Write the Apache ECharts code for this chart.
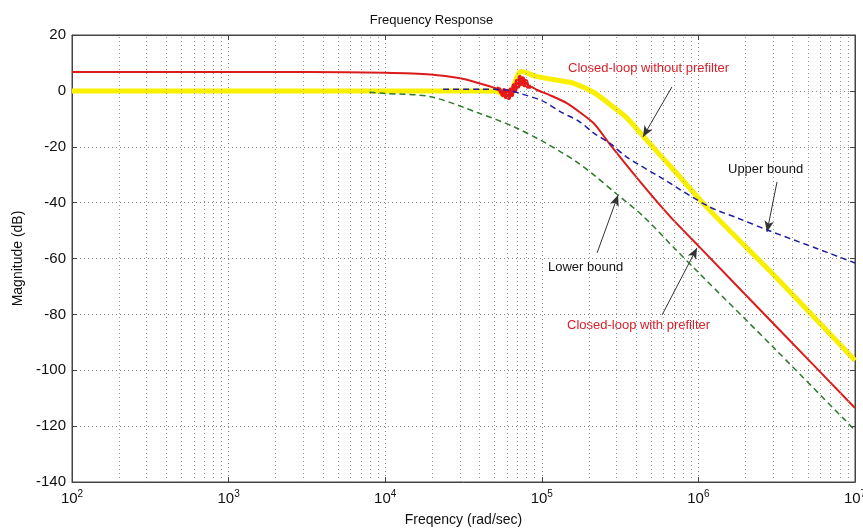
<!DOCTYPE html>
<html lang="en">
<head>
    <meta charset="UTF-8">
    <title>Frequency Response</title>
    <script src="https://cdn.jsdelivr.net/npm/echarts@6/dist/echarts.min.js"></script>
    <style>
        html, body { margin: 0; padding: 0; background: #fff; }
        #main { width: 863px; height: 528px; }
    </style>
</head>
<body>
    <div id="main"></div>
    <script>
        // exponents (log10 of frequency) and magnitudes
        var redLog = [2, 3.5, 4.0, 4.29, 4.48, 4.6, 4.71, 4.73, 4.75, 4.76, 4.77, 4.78, 4.79, 4.8, 4.81, 4.82, 4.83, 4.84, 4.85, 4.86, 4.87, 4.88, 4.89, 4.9, 4.91, 4.93, 4.97, 5.05, 5.16, 5.33, 5.44, 5.65, 5.82, 6.0, 6.5, 7.0];
        var redDb = [6.8, 6.8, 6.5, 5.9, 4.5, 2.7, 0.9, 0.5, -1.5, 0.3, -2.2, -0.3, -2.6, 0.5, -1.5, 2, 0, 3.5, 1.5, 5, 2.5, 4.5, 2, 3.5, 1.5, 1.5, 0.3, -1.5, -4.4, -11.5, -19.5, -34, -45, -55.5, -84.5, -113.5];
        // the oscillating stretch of the red curve (drawn heavier)
        var rippleFrom = 6, rippleTo = 26;

        var yellowLog = [2, 3, 4, 4.5, 4.7, 4.78, 4.87, 4.97, 5.12, 5.2, 5.33, 5.45, 5.54, 5.65, 5.86, 6.07, 6.5, 7.0];
        var yellowDb = [0, 0, 0, 0, 0, -2, 6.9, 5.1, 3.6, 2.8, -0.5, -5.5, -9.5, -16.4, -29.4, -42.6, -67, -96.5];

        var upperLog = [4.37, 4.6, 4.78, 4.86, 5.0, 5.12, 5.24, 5.33, 5.44, 5.54, 5.75, 6.07, 6.25, 6.44, 6.76, 7.0];
        var upperDb = [0.6, 0.6, 0.3, -0.9, -3.5, -7.5, -11, -15, -19, -23.6, -30.7, -41.5, -45.5, -49.8, -56.5, -61.6];

        var lowerLog = [3.9, 4.0, 4.29, 4.6, 4.82, 5.03, 5.12, 5.22, 5.33, 5.48, 5.65, 5.85, 6.0, 6.5, 7.0];
        var lowerDb = [-0.5, -0.9, -2.1, -8, -12.8, -18.8, -21.8, -25.3, -30, -37, -45, -56.5, -65, -93, -121.5];

        var decades = [2, 3, 4, 5, 6, 7];
        var minorSteps = [2, 3, 4, 5, 6, 7, 8, 9];
        var yTicks = [-140, -120, -100, -80, -60, -40, -20, 0, 20];

        // arrows: [tailLog, tailDb, headLog, headDb]
        var arrows = [
            [5.831, 1.4, 5.646, -16.5],
            [6.502, -32.6, 6.438, -50.5],
            [5.353, -58.0, 5.487, -37.3],
            [5.768, -80.2, 5.991, -56.2]
        ];

        function pairs(lg, db) {
            var out = [];
            for (var i = 0; i < lg.length; i++) {
                out.push([Math.pow(10, lg[i]), db[i]]);
            }
            return out;
        }

        var minorLines = [];
        for (var d = 0; d < decades.length - 1; d++) {
            for (var k = 0; k < minorSteps.length; k++) {
                minorLines.push({ xAxis: minorSteps[k] * Math.pow(10, decades[d]) });
            }
        }

        var arrowData = arrows.map(function(a) {
            return [
                { coord: [Math.pow(10, a[0]), a[1]], symbol: 'none' },
                { coord: [Math.pow(10, a[2]), a[3]], symbol: 'arrow' }
            ];
        });

        var font = 'Liberation Sans, Arial, Helvetica, sans-serif';
        var myChart = echarts.init(document.getElementById('main'));

        var option = {
            animation: false,
            title: {
                text: 'Frequency Response',
                left: 'center',
                top: 9,
                textStyle: { fontFamily: font, fontSize: 13, fontWeight: 'normal', color: '#111' }
            },
            grid: {
                left: 72, right: 8, top: 35, bottom: 46,
                outerBoundsMode: 'none',
                containLabel: false,
                show: true, borderColor: '#444', borderWidth: 1
            },
            xAxis: [{
                type: 'log',
                logBase: 10,
                min: 100,
                max: 1e7,
                name: 'Freqency (rad/sec)',
                nameLocation: 'middle',
                nameGap: 31,
                nameTextStyle: { fontFamily: font, fontSize: 14, color: '#111' },
                axisLine: { onZero: false, lineStyle: { color: '#444' } },
                axisTick: { inside: true, length: 5, lineStyle: { color: '#444' } },
                splitLine: { show: true, lineStyle: { color: '#888', type: [1, 3], width: 1 } },
                axisLabel: {
                    margin: 7,
                    formatter: function(v) {
                        return '{b|10}{s|' + Math.round(Math.log10(v)) + '}';
                    },
                    rich: {
                        b: { fontFamily: font, fontSize: 15, color: '#111' },
                        s: { fontFamily: font, fontSize: 10, color: '#111', verticalAlign: 'top', padding: [0, 0, 10, 0] }
                    }
                }
            }, {
                type: 'log',
                logBase: 10,
                min: 100,
                max: 1e7,
                position: 'top',
                axisLine: { onZero: false, lineStyle: { color: '#444' } },
                axisTick: { inside: true, length: 5, lineStyle: { color: '#444' } },
                axisLabel: { show: false },
                splitLine: { show: false }
            }],
            yAxis: [{
                type: 'value',
                min: -140,
                max: 20,
                interval: 20,
                name: 'Magnitude (dB)',
                nameLocation: 'middle',
                nameGap: 46,
                nameTextStyle: { fontFamily: font, fontSize: 14, color: '#111' },
                axisLine: { show: true, onZero: false, lineStyle: { color: '#444' } },
                axisTick: { show: true, inside: true, length: 5, lineStyle: { color: '#444' } },
                splitLine: { show: true, lineStyle: { color: '#888', type: [1, 3], width: 1 } },
                axisLabel: {
                    margin: 6,
                    fontFamily: font,
                    fontSize: 15,
                    color: '#111',
                    formatter: function(v) {
                        return yTicks.indexOf(v) >= 0 ? String(v) : '';
                    }
                }
            }, {
                type: 'value',
                min: -140,
                max: 20,
                interval: 20,
                position: 'right',
                axisLine: { show: true, onZero: false, lineStyle: { color: '#444' } },
                axisTick: { show: true, inside: true, length: 5, lineStyle: { color: '#444' } },
                axisLabel: { show: false },
                splitLine: { show: false }
            }],
            series: [{
                // minor grid lines
                type: 'line',
                data: [],
                silent: true,
                markLine: {
                    silent: true,
                    symbol: 'none',
                    animation: false,
                    label: { show: false },
                    lineStyle: { color: '#999', type: [1, 3], width: 1 },
                    data: minorLines
                }
            }, {
                name: 'Closed-loop without prefilter',
                type: 'line',
                data: pairs(yellowLog, yellowDb),
                showSymbol: false,
                smooth: 0.3,
                lineStyle: { color: '#f8f000', width: 5 },
                z: 3
            }, {
                name: 'Closed-loop with prefilter',
                type: 'line',
                data: pairs(redLog, redDb),
                showSymbol: false,
                smooth: 0.2,
                lineStyle: { color: '#dc1c1c', width: 2 },
                z: 4
            }, {
                name: 'ripple',
                type: 'line',
                data: pairs(redLog.slice(rippleFrom, rippleTo), redDb.slice(rippleFrom, rippleTo)),
                showSymbol: false,
                lineStyle: { color: '#e81818', width: 4, join: 'round' },
                z: 4
            }, {
                name: 'Upper bound',
                type: 'line',
                data: pairs(upperLog, upperDb),
                showSymbol: false,
                smooth: 0.3,
                lineStyle: { color: '#1c1ca8', width: 1.5, type: [6, 4] },
                z: 5
            }, {
                name: 'Lower bound',
                type: 'line',
                data: pairs(lowerLog, lowerDb),
                showSymbol: false,
                smooth: 0.3,
                lineStyle: { color: '#2a7a2a', width: 1.5, type: [6, 4] },
                z: 5,
                markLine: {
                    silent: true,
                    animation: false,
                    symbolSize: [7, 11],
                    label: { show: false },
                    lineStyle: { color: '#333', type: 'solid', width: 1 },
                    data: arrowData
                }
            }],
            graphic: [
                { type: 'text', left: 568, top: 62, style: { text: 'Closed-loop without prefilter', fill: '#d8202a', font: '13px ' + font } },
                { type: 'text', left: 728, top: 163, style: { text: 'Upper bound', fill: '#111', font: '13px ' + font } },
                { type: 'text', left: 548, top: 261, style: { text: 'Lower bound', fill: '#111', font: '13px ' + font } },
                { type: 'text', left: 567, top: 319, style: { text: 'Closed-loop with prefilter', fill: '#d8202a', font: '13px ' + font } }
            ]
        };

        myChart.setOption(option);
    </script>
</body>
</html>
